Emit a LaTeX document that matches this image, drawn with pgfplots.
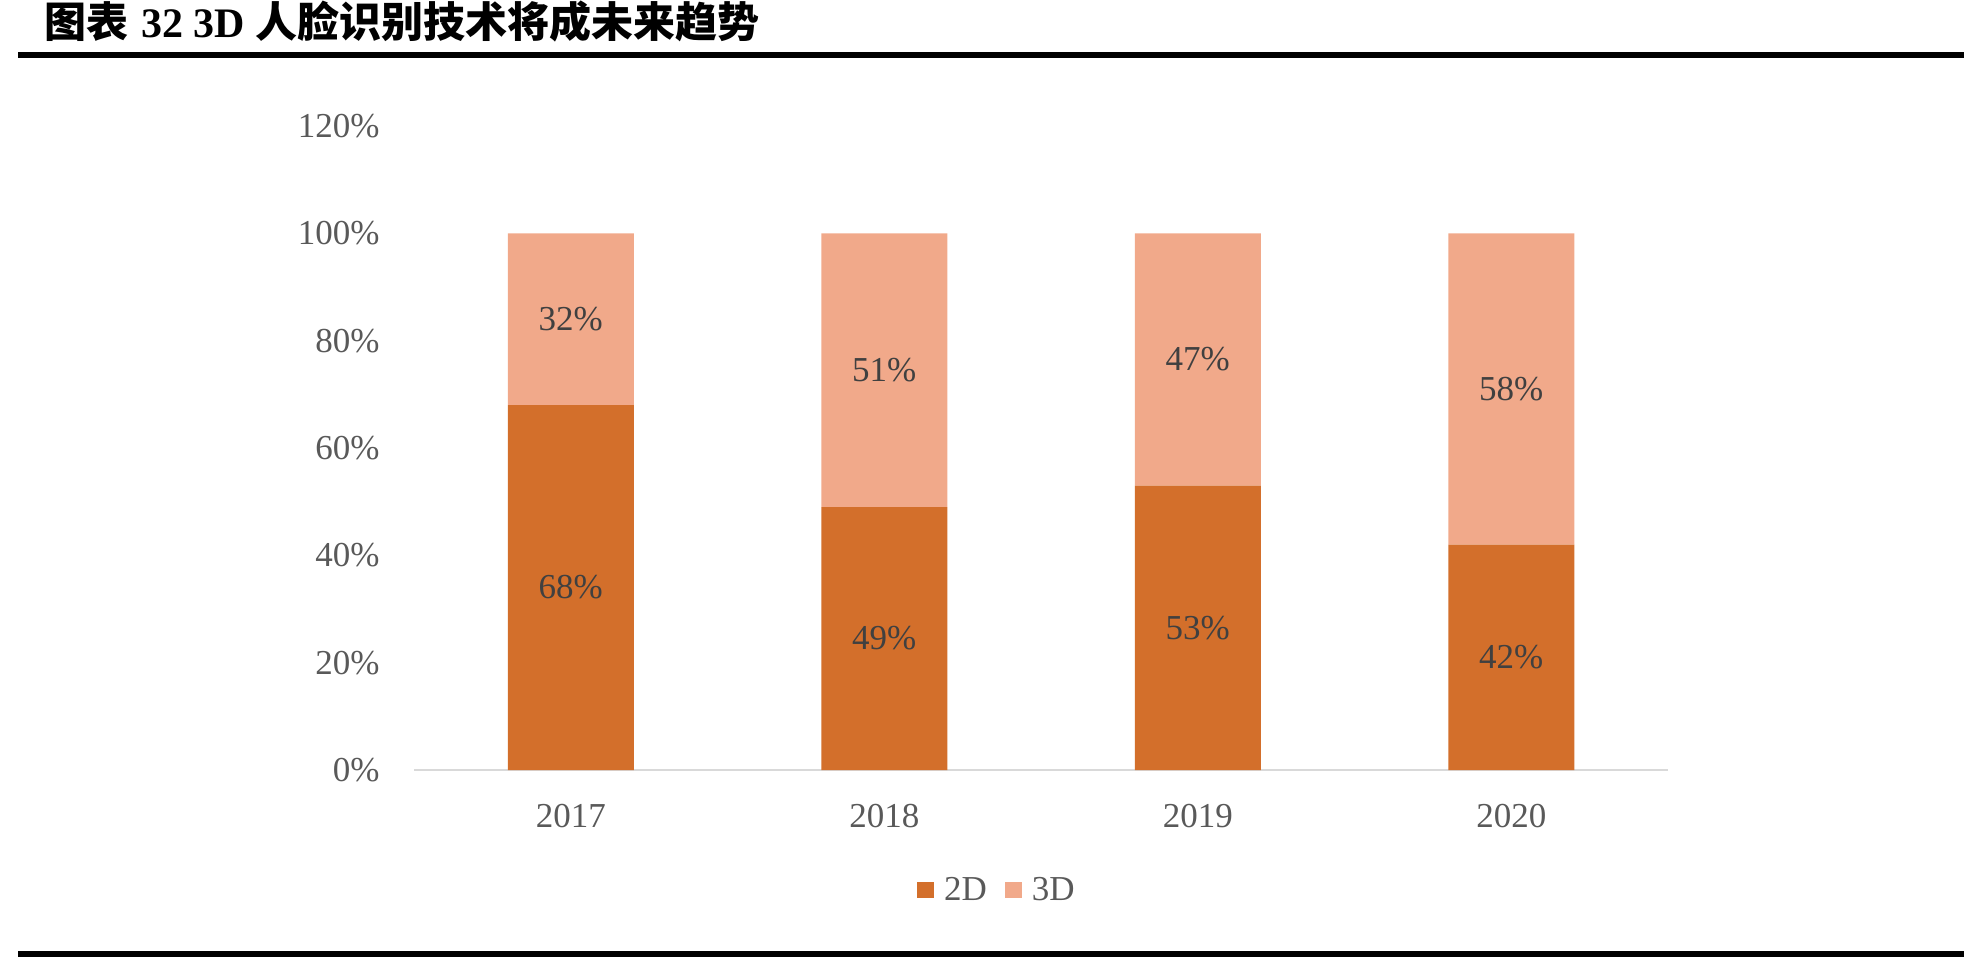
\documentclass[border=0pt]{standalone}
\usepackage{fontspec}
\setmainfont{Liberation Serif}
\newfontfamily\cjk{Noto Sans CJK SC}
\usepackage{pgfplots}
\usepackage{pgfplotstable}
\pgfplotsset{compat=1.18}
\definecolor{c2d}{HTML}{D36F2B}
\definecolor{c3d}{HTML}{F1A98A}
\definecolor{tickc}{HTML}{595959}
\definecolor{lblc}{HTML}{404040}
\definecolor{axln}{HTML}{D9D9D9}

\pgfplotstableread{
x year d2 d3
0 2017 68 32
1 2018 49 51
2 2019 53 47
3 2020 42 58
}\facedata

\begin{document}
\begin{tikzpicture}
\path[use as bounding box] (0,0) rectangle (987pt,479.5pt);
% title and rules
\fill (9pt,450.5pt) rectangle (982pt,453.5pt);
\fill (9pt,1.2pt) rectangle (982pt,4.2pt);
\node[anchor=base west, inner sep=0pt, font=\fontsize{21}{24}\selectfont\bfseries]
  at (22pt,460.5pt) {{\cjk 图表}\hspace{0.3em}32 3D {\cjk 人脸识别技术将成未来趋势}};

\begin{axis}[at={(207pt,94.5pt)}, anchor=south west,
  scale only axis, width=627pt, height=322pt,
  ybar stacked, bar width=63pt,
  xmin=-0.5, xmax=3.5, ymin=0, ymax=120, enlargelimits=false,
  xtick={0,1,2,3}, xticklabels={2017,2018,2019,2020},
  ytick={0,20,...,120},
  yticklabel={\pgfmathprintnumber{\tick}\%},
  /pgf/number format/assume math mode=true,
  axis x line*=bottom, axis y line*=left,
  y axis line style={draw=none},
  x axis line style={draw=axln, line width=1pt},
  major tick length=0pt,
  tick label style={font=\fontsize{17.5}{20}\selectfont, text=tickc},
  xticklabel style={inner sep=0pt, yshift=-17pt},
  yticklabel style={inner sep=0pt, xshift=-17pt},
  point meta=explicit symbolic,
  nodes near coords={\pgfplotspointmeta\%},
  every node near coord/.append style={anchor=center,
    font=\fontsize{17.5}{20}\selectfont, text=lblc},
  legend columns=2,
  legend style={at={(axis description cs:0.4657,-0.1863)}, anchor=center,
    draw=none, fill=none, inner sep=0pt, column sep=0pt,
    nodes={inner sep=2pt}, font=\fontsize{17.5}{20}\selectfont, text=tickc,
    /tikz/every odd column/.append style={column sep=3pt},
    /tikz/every even column/.append style={column sep=7pt}},
  legend image code/.code={\fill[#1] (0pt,-4.2pt) rectangle (8.4pt,4.2pt);},
]
\addplot[fill=c2d, draw=none] table[x=x, y=d2, meta=d2] {\facedata};
\addplot[fill=c3d, draw=none] table[x=x, y=d3, meta=d3] {\facedata};
\legend{2D,3D}
\end{axis}
\end{tikzpicture}
\end{document}
